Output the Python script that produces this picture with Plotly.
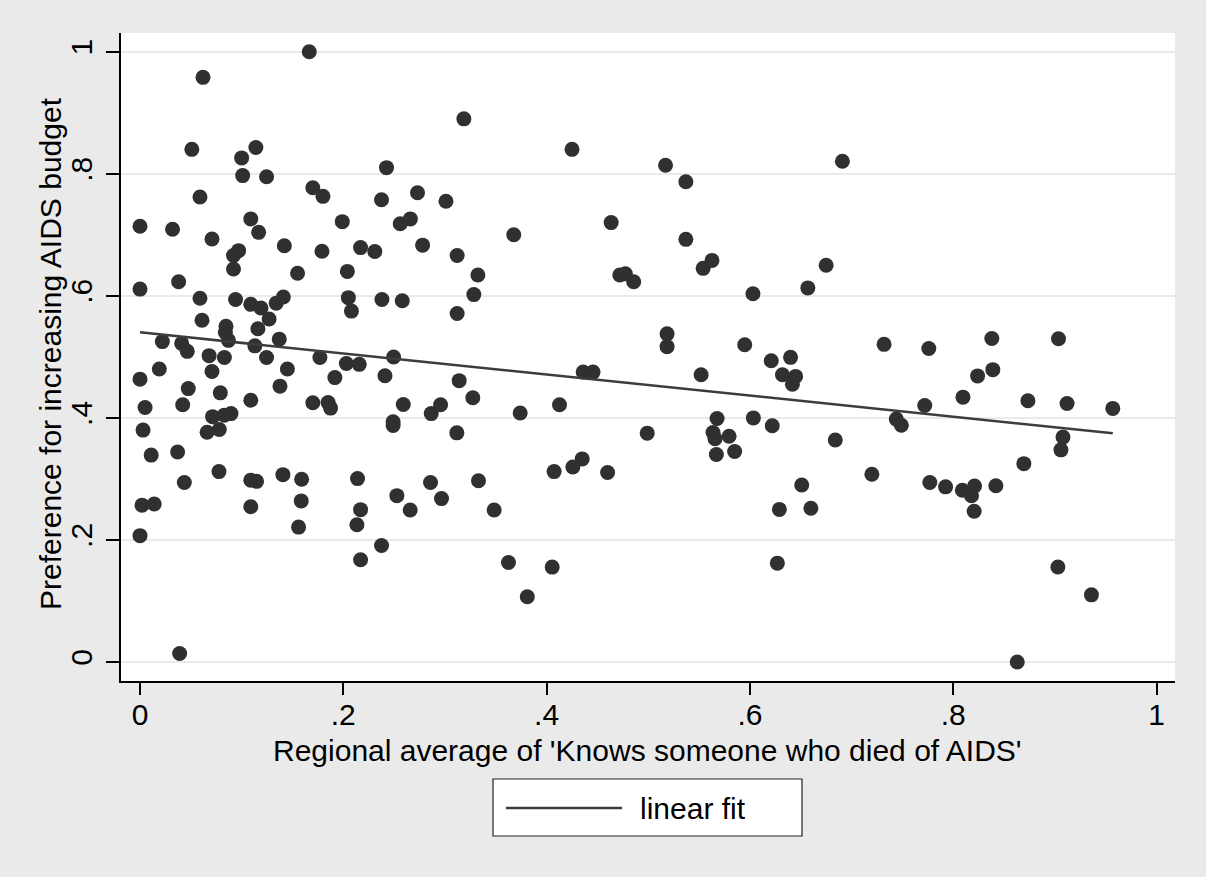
import numpy as np
import plotly.graph_objects as go

# Regional average of 'Knows someone who died of AIDS'
x_vals = [
    0.000, 0.000, 0.000, 0.003, 0.005, 0.002, 0.000, 0.014, 0.011, 0.019,
    0.022, 0.032, 0.037, 0.038, 0.039, 0.041, 0.042, 0.0436, 0.0465, 0.0475,
    0.051, 0.059, 0.059, 0.061, 0.062, 0.066, 0.068, 0.0708, 0.0708, 0.0714,
    0.0777, 0.078, 0.079, 0.083, 0.0846, 0.084, 0.083, 0.087, 0.0895, 0.092,
    0.092, 0.094, 0.097, 0.100, 0.101, 0.109, 0.109, 0.109, 0.109, 0.109,
    0.113, 0.114, 0.1147, 0.116, 0.1167, 0.119, 0.1245, 0.1245, 0.127, 0.134,
    0.137, 0.1377, 0.141, 0.1406, 0.142, 0.145, 0.155, 0.156, 0.1586, 0.159,
    0.1665, 0.170, 0.170, 0.177, 0.180, 0.179, 0.185, 0.1875, 0.1917, 0.199,
    0.203, 0.204, 0.205, 0.208, 0.214, 0.2134, 0.2157, 0.217, 0.217, 0.217,
    0.231, 0.2376, 0.2376, 0.238, 0.241, 0.2425, 0.2495, 0.249, 0.249, 0.2527,
    0.256, 0.258, 0.259, 0.2658, 0.266, 0.273, 0.278, 0.2858, 0.2865, 0.2957,
    0.2966, 0.301, 0.312, 0.3117, 0.312, 0.314, 0.3186, 0.3274, 0.3284, 0.3324,
    0.333, 0.3484, 0.3625, 0.3677, 0.374, 0.381, 0.4055, 0.4074, 0.4127, 0.425,
    0.4258, 0.435, 0.436, 0.4457, 0.460, 0.4635, 0.472, 0.4775, 0.4857, 0.499,
    0.517, 0.5185, 0.5185, 0.537, 0.537, 0.552, 0.554, 0.5627, 0.5637, 0.5657,
    0.567, 0.5677, 0.5795, 0.585, 0.5949, 0.603, 0.6034, 0.621, 0.622, 0.627,
    0.629, 0.632, 0.640, 0.6418, 0.645, 0.651, 0.657, 0.660, 0.675, 0.684,
    0.691, 0.720, 0.732, 0.744, 0.749, 0.772, 0.776, 0.777, 0.7925, 0.8096,
    0.809, 0.818, 0.821, 0.8206, 0.824, 0.838, 0.839, 0.842, 0.863, 0.8695,
    0.8735, 0.9036, 0.903, 0.906, 0.908, 0.912, 0.936, 0.957,
]

# Preference for increasing AIDS budget
y_vals = [
    0.714, 0.611, 0.4635, 0.380, 0.417, 0.257, 0.207, 0.259, 0.339, 0.480,
    0.525, 0.709, 0.344, 0.623, 0.014, 0.522, 0.4215, 0.294, 0.509, 0.448,
    0.840, 0.762, 0.596, 0.560, 0.958, 0.3765, 0.502, 0.693, 0.476, 0.402,
    0.312, 0.381, 0.441, 0.499, 0.550, 0.540, 0.4045, 0.527, 0.407, 0.666,
    0.644, 0.594, 0.674, 0.826, 0.797, 0.726, 0.586, 0.429, 0.298, 0.2545,
    0.518, 0.843, 0.296, 0.546, 0.704, 0.580, 0.795, 0.499, 0.562, 0.588,
    0.529, 0.452, 0.598, 0.307, 0.682, 0.480, 0.637, 0.221, 0.264, 0.2995,
    1.000, 0.777, 0.4248, 0.499, 0.763, 0.673, 0.425, 0.416, 0.466, 0.7215,
    0.489, 0.640, 0.597, 0.575, 0.3005, 0.2249, 0.4877, 0.679, 0.2496, 0.1675,
    0.6725, 0.191, 0.7575, 0.594, 0.469, 0.810, 0.4997, 0.3935, 0.3875, 0.2726,
    0.718, 0.592, 0.422, 0.249, 0.726, 0.769, 0.683, 0.294, 0.407, 0.4214,
    0.2677, 0.755, 0.666, 0.3755, 0.571, 0.461, 0.890, 0.433, 0.602, 0.634,
    0.297, 0.249, 0.163, 0.700, 0.408, 0.107, 0.1555, 0.312, 0.4214, 0.840,
    0.3196, 0.3328, 0.475, 0.475, 0.3106, 0.720, 0.634, 0.636, 0.623, 0.375,
    0.814, 0.5377, 0.5167, 0.787, 0.6925, 0.4706, 0.645, 0.658, 0.376, 0.366,
    0.340, 0.399, 0.370, 0.345, 0.5198, 0.6035, 0.400, 0.4936, 0.387, 0.162,
    0.250, 0.4706, 0.4992, 0.455, 0.468, 0.290, 0.613, 0.252, 0.650, 0.3637,
    0.8206, 0.3077, 0.5205, 0.398, 0.388, 0.4204, 0.5136, 0.294, 0.287, 0.434,
    0.2815, 0.2725, 0.2885, 0.247, 0.4688, 0.530, 0.479, 0.2889, 0.000, 0.325,
    0.428, 0.5296, 0.1557, 0.3476, 0.3685, 0.4236, 0.110, 0.4155,
]

tick_vals = [0, 0.2, 0.4, 0.6, 0.8, 1]
tick_text = ["0", ".2", ".4", ".6", ".8", "1"]
legend_label = "linear fit"
x_title = "Regional average of 'Knows someone who died of AIDS'"
y_title = "Preference for increasing AIDS budget"

xa = np.array(x_vals)
ya = np.array(y_vals)
slope, intercept = np.polyfit(xa, ya, 1)
fit_x = np.array([xa.min(), xa.max()])
fit_y = intercept + slope * fit_x

FONT = "Liberation Sans, Arial, Helvetica, sans-serif"
BG = "#EAEAEA"
DARK = "#303030"

fig = go.Figure()
fig.add_trace(go.Scatter(
    x=x_vals, y=y_vals, mode="markers",
    marker=dict(size=15, color=DARK, line=dict(width=0)),
    showlegend=False, hoverinfo="x+y",
))
fig.add_trace(go.Scatter(
    x=fit_x, y=fit_y, mode="lines",
    line=dict(color="#3c3c3c", width=2.5),
    name=legend_label, showlegend=False,
))

L, R, T, B = 121, 1175, 33, 681
W, H = R - L, B - T
def px(xp):
    return (xp - L) / W
def py(yp):
    return (B - yp) / H

# legend box below the plot
fig.add_shape(type="rect", xref="paper", yref="paper",
              x0=px(493), x1=px(802), y0=py(779), y1=py(836),
              line=dict(color="#222222", width=1.2), fillcolor="white", layer="above")
fig.add_shape(type="line", xref="paper", yref="paper",
              x0=px(506), x1=px(622), y0=py(808), y1=py(808),
              line=dict(color="#3c3c3c", width=2.5), layer="above")
fig.add_annotation(text=legend_label, xref="paper", yref="paper",
                   x=px(638), y=py(808), xanchor="left", yanchor="middle",
                   showarrow=False, font=dict(family=FONT, size=30, color="black"))

# axis titles
fig.add_annotation(text=y_title, xref="paper", yref="paper",
                   x=px(50), y=py(354), xanchor="center", yanchor="middle",
                   textangle=-90, showarrow=False,
                   font=dict(family=FONT, size=30, color="black"))
fig.add_annotation(text=x_title, xref="paper", yref="paper",
                   x=px(647), y=py(750), xanchor="center", yanchor="middle",
                   showarrow=False,
                   font=dict(family=FONT, size=30, color="black"))

fig.update_layout(
    width=1206, height=877,
    margin=dict(l=L, r=1206 - R, t=T, b=877 - B),
    paper_bgcolor=BG, plot_bgcolor="white",
    font=dict(family=FONT, size=30, color="black"),
    showlegend=False,
)
fig.update_xaxes(
    range=[(121 - 140) / 1016.5, (1175 - 140) / 1016.5],
    tickvals=tick_vals, ticktext=tick_text,
    showgrid=False, zeroline=False,
    showline=True, linecolor="black", linewidth=1.5,
    ticks="outside", ticklen=12, tickwidth=1.5, tickcolor="black",
    tickfont=dict(family=FONT, size=30),
    ticklabelstandoff=-6,
)
fig.update_yaxes(
    range=[(662 - 681) / 610.3, (662 - 33) / 610.3],
    tickvals=tick_vals, ticktext=tick_text, tickangle=-90,
    showgrid=True, gridcolor="#EAEAEA", gridwidth=2,
    zeroline=False,
    showline=True, linecolor="black", linewidth=1.5,
    ticks="outside", ticklen=13, tickwidth=1.5, tickcolor="black",
    tickfont=dict(family=FONT, size=30),
    ticklabelstandoff=2,
)

fig.write_html("out.html", config={"displayModeBar": False},
               post_script="document.body.style.margin='0';")
